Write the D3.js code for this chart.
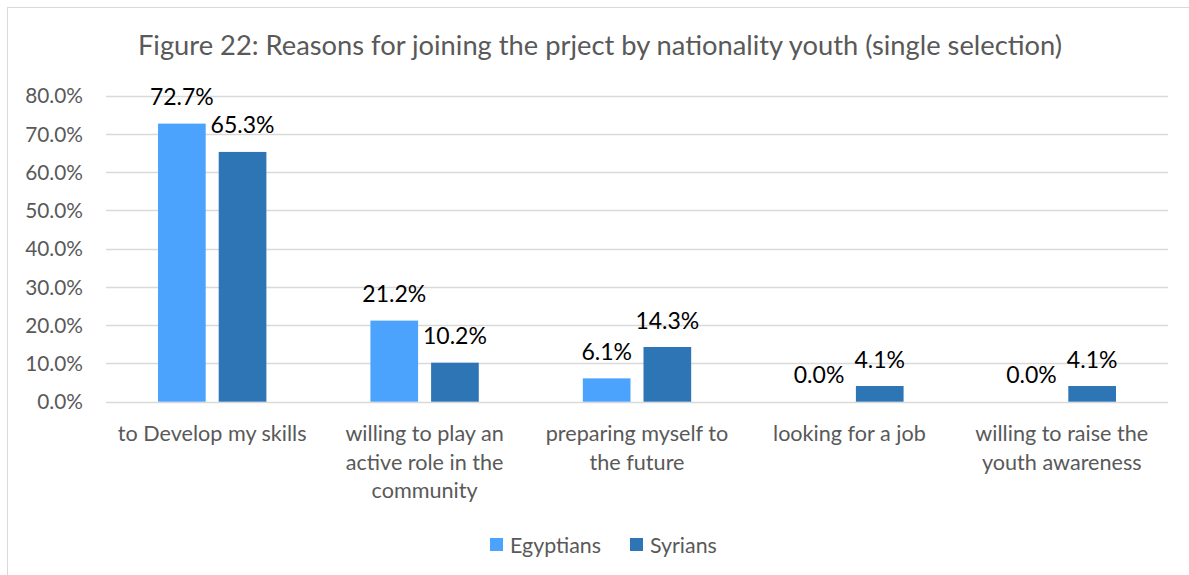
<!DOCTYPE html>
<html>
<head>
<meta charset="utf-8">
<script src="https://cdn.jsdelivr.net/npm/d3@7/dist/d3.min.js"></script>
<style>
  html, body { margin: 0; padding: 0; background: #fff; }
  svg { display: block; font-family: Lato, "Open Sans", sans-serif; }
</style>
</head>
<body>
<svg id="chart" width="1189" height="575"></svg>
<script>
// Reasons for joining, by nationality (share of youth, %)
const categories = [
  ["to Develop my skills"],
  ["willing to play an", "active role in the", "community"],
  ["preparing myself to", "the future"],
  ["looking for a job"],
  ["willing to raise the", "youth awareness"]
];
const seriesNames = ["Egyptians", "Syrians"];
const egyptians = [72.7, 21.2, 6.1, 0.0, 0.0];
const syrians = [65.3, 10.2, 14.3, 4.1, 4.1];
const yTicks = [0, 10, 20, 30, 40, 50, 60, 70, 80];
const colors = ["#4BA3FD", "#2E75B6"];

const svg = d3.select("#chart");
const plotLeft = 106, plotRight = 1168, plotTop = 95.7, plotBottom = 401.7;

// chart frame
svg.append("rect")
  .attr("x", 7.5).attr("y", 7.5)
  .attr("width", 1200).attr("height", 600)
  .attr("fill", "#fff").attr("stroke", "#d9d9d9").attr("stroke-width", 1);

svg.append("text")
  .attr("x", 600).attr("y", 55)
  .attr("text-anchor", "middle")
  .attr("fill", "#595959")
  .attr("font-size", 27.3)
  .text("Figure 22: Reasons for joining the prject by nationality youth (single selection)");

const x = d3.scaleBand()
  .domain(d3.range(categories.length))
  .range([plotLeft, plotRight])
  .paddingInner(0).paddingOuter(0);

const y = d3.scaleLinear().domain([0, 80]).range([plotBottom, plotTop]);

// gridlines
svg.append("g")
  .selectAll("line")
  .data(yTicks)
  .join("line")
  .attr("x1", plotLeft).attr("x2", plotRight)
  .attr("y1", d => Math.round(y(d)) + 0.5).attr("y2", d => Math.round(y(d)) + 0.5)
  .attr("stroke", "#d9d9d9").attr("stroke-width", 1.3);

// y axis labels
const yAxis = d3.axisLeft(y).tickValues(yTicks).tickFormat(d => d.toFixed(1) + "%").tickSize(0).tickPadding(0);
const gy = svg.append("g").attr("transform", "translate(83,0)").call(yAxis);
gy.select(".domain").remove();
gy.selectAll("text")
  .attr("font-family", "Lato, 'Open Sans', sans-serif")
  .attr("font-size", 20.8).attr("fill", "#595959").attr("dy", "0.35em");

const barW = x.bandwidth() * 0.2245;
const gap = 13;
const series = [egyptians, syrians];
const offsets = [-(gap / 2 + barW), gap / 2];

series.forEach((vals, si) => {
  const g = svg.append("g");
  g.selectAll("rect")
    .data(vals)
    .join("rect")
    .attr("x", (d, i) => x(i) + x.bandwidth() / 2 + offsets[si])
    .attr("y", d => y(d))
    .attr("width", barW)
    .attr("height", d => y(0) - y(d))
    .attr("fill", colors[si]);
  g.selectAll("text")
    .data(vals)
    .join("text")
    .attr("x", (d, i) => x(i) + x.bandwidth() / 2 + offsets[si] + barW / 2)
    .attr("y", d => y(d) - 18.5)
    .attr("text-anchor", "middle")
    .attr("font-size", 23)
    .attr("fill", "#000")
    .text(d => d.toFixed(1) + "%");
});

// category labels
const gx = svg.append("g");
categories.forEach((lines, i) => {
  const t = gx.append("text")
    .attr("x", x(i) + x.bandwidth() / 2)
    .attr("y", 441)
    .attr("text-anchor", "middle")
    .attr("font-size", 21.6)
    .attr("fill", "#595959");
  lines.forEach((ln, k) => {
    t.append("tspan").attr("x", x(i) + x.bandwidth() / 2).attr("dy", k === 0 ? 0 : 28.5).text(ln);
  });
});

// legend
const legend = svg.append("g");
const legendItems = [{ x: 490, name: seriesNames[0], c: colors[0] }, { x: 630, name: seriesNames[1], c: colors[1] }];
legendItems.forEach(it => {
  legend.append("rect").attr("x", it.x).attr("y", 538).attr("width", 13).attr("height", 13).attr("fill", it.c);
  legend.append("text").attr("x", it.x + 20).attr("y", 552.5)
    .attr("font-size", 21.4).attr("fill", "#595959").text(it.name);
});
</script>
</body>
</html>
